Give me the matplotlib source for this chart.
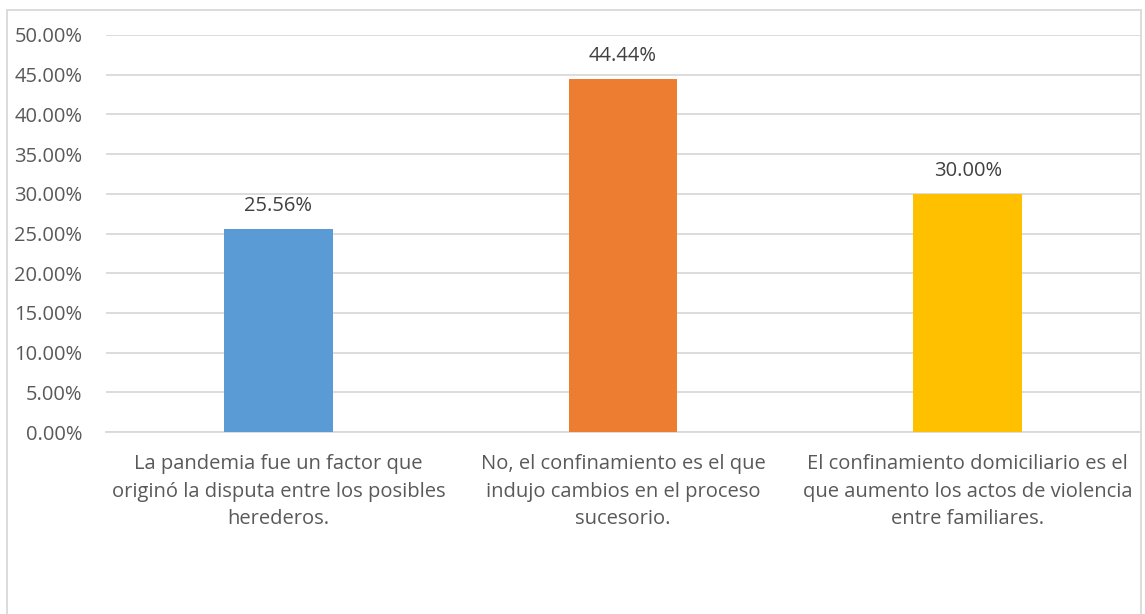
import matplotlib.pyplot as plt
from matplotlib.patches import Rectangle

plt.rcParams['font.family'] = ['Open Sans', 'DejaVu Sans']

categories = [
    "La pandemia fue un factor que\noriginó la disputa entre los posibles\nherederos.",
    "No, el confinamiento es el que\nindujo cambios en el proceso\nsucesorio.",
    "El confinamiento domiciliario es el\nque aumento los actos de violencia\nentre familiares.",
]
values = [25.56, 44.44, 30.00]
colors = ["#5B9BD5", "#ED7D31", "#FFC000"]
yticks = [0, 5, 10, 15, 20, 25, 30, 35, 40, 45, 50]

text_color = "#595959"
grid_color = "#D9D9D9"

fig = plt.figure(figsize=(11.45, 6.14), dpi=100)
ax = fig.add_axes([106 / 1145, 1 - 432 / 614, 1034 / 1145, 397 / 614])

x = range(len(values))
bars = ax.bar(x, values, width=0.316, color=colors, zorder=3)

for b, v in zip(bars, values):
    ax.text(b.get_x() + b.get_width() / 2, v + 1.6, f"{v:.2f}%",
            ha="center", va="bottom", fontsize=14.5, color="#404040")

ax.set_xlim(-0.5, 2.5)
ax.set_ylim(0, 50)
ax.set_yticks(yticks)
ax.set_yticklabels([f"{t:.2f}%" for t in yticks], fontsize=14.5, color=text_color)
ax.set_xticks(list(x))
ax.set_xticklabels(categories, fontsize=14.5, color=text_color, linespacing=1.5)
ax.tick_params(axis="both", length=0)
ax.tick_params(axis="x", pad=16)
ax.tick_params(axis="y", pad=17)

ax.grid(axis="y", color=grid_color, linewidth=1.3, zorder=0)
for s in ["top", "right", "left"]:
    ax.spines[s].set_visible(False)
ax.spines["bottom"].set_color(grid_color)
ax.spines["bottom"].set_linewidth(1.3)

# chart area border
fig.patches.append(Rectangle((7 / 1145, -0.05), 1134 / 1145, 1 - 10 / 614 + 0.05,
                             transform=fig.transFigure, fill=False,
                             edgecolor=grid_color, linewidth=1.3))

fig.savefig("out.png", dpi=100)
